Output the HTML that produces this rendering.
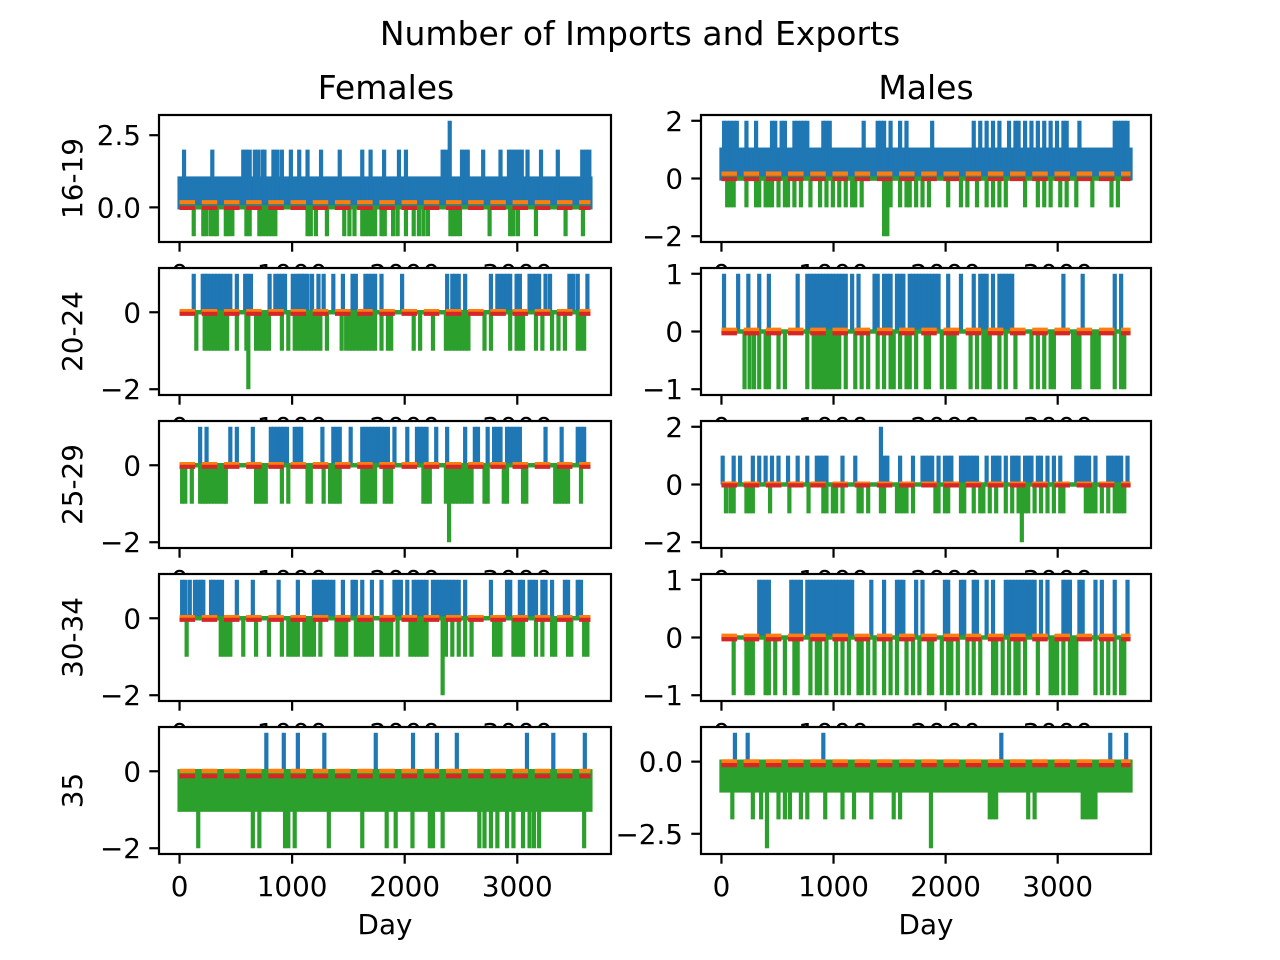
<!DOCTYPE html>
<html><head><meta charset="utf-8"><style>
html,body{margin:0;padding:0;background:#fff;}
svg{display:block;font-family:"DejaVu Sans","Liberation Sans",sans-serif;}
</style></head><body>
<svg id="fig" width="1280" height="960" viewBox="0 0 1280 960" xmlns="http://www.w3.org/2000/svg">
<rect width="1280" height="960" fill="#fff"/>
<text x="640" y="45" font-size="33" text-anchor="middle">Number of Imports and Exports</text>
<text x="386" y="99" font-size="33" text-anchor="middle">Females</text>
<text x="926" y="99" font-size="33" text-anchor="middle">Males</text>
<g id="plots"></g>
</svg>
<script>
// ---- data (days of spikes, values) ----
const rowLabels = ["16-19","20-24","25-29","30-34","35"];
const xTicks = [0,1000,2000,3000];
const xMax = 3650;
// Females
const fBlueBand = [1,0,0,0,0];
const fGreenBand = [0,0,0,0,-1];
const fBlue2_16 = [40,291,566,594,623,669,697,737,754,834,869,909,989,1063,1137,1257,1423,1623,1697,1817,1949,2011,2337,2366,2509,2537,2560,2697,2851,2926,2954,2983,3011,3040,3091,3211,3360,3577,3611,3640];
const fBlue3_16 = [2400];
const fGreen1_16 = [126,211,240,280,309,331,411,434,469,594,623,709,737,766,794,823,851,1137,1166,1211,1309,1463,1509,1554,1623,1651,1680,1709,1737,1794,1823,1897,1937,2011,2080,2126,2166,2206,2406,2434,2463,2491,2754,2937,2966,3006,3166,3429,3583];
const fBlue1_20 = [126,206,229,251,280,309,337,366,394,423,451,509,583,606,634,800,851,880,909,937,1006,1040,1063,1086,1109,1137,1177,1234,1280,1366,1451,1537,1566,1651,1680,1709,1737,1794,1977,2377,2423,2451,2480,2537,2766,2823,2851,2880,2909,2937,2994,3023,3109,3137,3166,3194,3251,3291,3463,3497,3537,3623];
const fGreen1_20 = [149,223,251,280,309,337,366,394,423,509,594,680,709,737,766,794,909,966,1023,1051,1080,1109,1137,1166,1194,1223,1251,1309,1440,1480,1509,1537,1566,1594,1623,1651,1680,1709,1737,1794,1851,1880,2080,2137,2251,2366,2394,2423,2451,2480,2509,2537,2566,2709,2766,2937,2994,3023,3051,3166,3223,3309,3366,3423,3537,3566,3594];
const fGreen2_20 = [611];
const fBlue1_25 = [183,240,451,509,651,811,840,869,897,926,954,1023,1051,1080,1269,1366,1394,1423,1520,1623,1651,1680,1709,1737,1766,1794,1823,1851,1909,2023,2109,2137,2166,2194,2280,2377,2537,2623,2651,2737,2794,2823,2851,2909,2937,2966,2994,3023,3251,3394,3537,3566,3594];
const fGreen1_25 = [23,51,109,183,206,229,251,280,309,337,366,394,411,680,709,737,766,909,966,1137,1166,1280,1337,1366,1394,1423,1623,1651,1680,1709,1737,1823,1851,1880,2166,2194,2223,2366,2423,2451,2480,2509,2537,2566,2594,2709,2737,2880,2909,3051,3080,3337,3366,3394,3423,3451,3566];
const fGreen2_25 = [2394];
const fBlue1_30 = [23,51,91,137,166,194,211,280,297,326,354,377,509,651,880,1051,1194,1223,1251,1280,1309,1337,1366,1451,1537,1566,1623,1709,1794,1909,1937,1966,2023,2080,2109,2137,2166,2194,2251,2280,2309,2337,2366,2394,2423,2451,2480,2537,2766,2909,2937,3023,3051,3109,3137,3166,3223,3251,3309,3423,3451,3537,3566];
const fGreen1_30 = [63,366,394,423,451,566,680,794,909,966,994,1023,1051,1109,1137,1166,1194,1251,1394,1423,1451,1480,1566,1594,1623,1651,1680,1709,1794,1823,1851,1880,1937,2051,2080,2109,2137,2166,2194,2366,2423,2480,2537,2594,2794,2823,2851,2966,2994,3023,3051,3166,3223,3309,3337,3451,3480,3594,3623];
const fGreen2_30 = [2337];
const fBlue1_35 = [771,926,1051,1286,1743,2074,2286,2463,3086,3320,3600];
const fGreen2_35 = [166,651,709,937,966,1023,1326,1623,1840,1920,2069,2223,2251,2337,2663,2709,2766,2823,2909,2966,3051,3109,3149,3194,3594];
// Males
const mBlueBand = [1,0,0,0,0];
const mGreenBand = [0,0,0,0,-1];
const mBlue2_16 = [23,51,80,109,137,223,309,451,480,537,566,651,680,709,737,766,909,937,966,1269,1394,1423,1451,1509,1594,1651,1880,2251,2309,2366,2423,2480,2566,2623,2651,2709,2766,2823,2880,2937,2994,3051,3080,3194,3509,3537,3566,3594,3623];
const mGreen1_16 = [51,80,109,223,309,337,394,423,451,509,566,594,651,709,794,880,937,994,1051,1109,1166,1194,1251,1509,1594,1651,1680,1737,1794,1851,2023,2137,2194,2280,2366,2423,2480,2537,2709,2823,2880,2937,3023,3080,3166,3309,3480,3537];
const mGreen2_16 = [1451,1480];
const mBlue1_20 = [23,149,240,337,423,680,766,794,823,851,880,909,937,966,994,1023,1051,1080,1109,1166,1223,1366,1394,1451,1480,1509,1566,1594,1623,1680,1709,1737,1766,1794,1823,1851,1880,1909,1937,2023,2137,2251,2309,2337,2366,2423,2480,2509,2537,2566,2594,3051,3223,3509,3566];
const mGreen1_20 = [206,251,291,337,394,423,509,566,766,823,851,880,909,937,966,994,1023,1051,1109,1194,1251,1309,1394,1451,1509,1537,1594,1651,1680,1737,1823,1851,1966,2023,2051,2080,2223,2280,2337,2366,2394,2480,2537,2623,2766,2823,2880,2937,2966,3137,3166,3194,3309,3337,3366,3509,3566,3594];
const mBlue1_25 = [11,109,166,280,337,394,451,509,594,680,766,851,880,909,937,1080,1194,1451,1480,1594,1709,1794,1823,1851,1880,1937,1994,2023,2051,2137,2166,2194,2223,2251,2280,2366,2423,2451,2480,2537,2594,2623,2651,2709,2737,2766,2823,2851,2909,2966,3023,3166,3194,3223,3251,3280,3337,3451,3480,3509,3537,3566,3623];
const mBlue2_25 = [1423];
const mGreen1_25 = [40,80,109,223,251,280,434,606,777,909,937,994,1023,1080,1223,1251,1309,1423,1451,1566,1594,1623,1651,1709,1909,1937,1994,2023,2137,2166,2251,2309,2337,2394,2451,2537,2594,2651,2709,2737,2794,2851,2909,2966,3023,3051,3251,3280,3309,3337,3394,3451,3509,3537,3566,3594];
const mGreen2_25 = [2680];
const mBlue1_30 = [337,366,394,423,623,651,680,709,766,794,823,851,880,909,937,966,994,1023,1051,1080,1109,1137,1166,1337,1451,1566,1594,1623,1737,1794,1994,2023,2137,2166,2251,2280,2366,2423,2537,2566,2594,2623,2651,2680,2709,2737,2766,2794,2851,2909,3051,3080,3109,3194,3223,3337,3394,3509,3623];
const mGreen1_30 = [109,223,251,280,394,423,480,566,651,680,794,851,880,937,1023,1080,1137,1223,1251,1309,1366,1451,1509,1566,1651,1709,1766,1851,1880,1966,2023,2051,2109,2194,2251,2309,2423,2451,2509,2566,2623,2651,2709,2823,2937,2966,2994,3051,3109,3137,3166,3337,3394,3451,3509,3566,3594];
const mBlue1_35 = [120,234,909,2497,3469,3611];
const mGreen2_35 = [97,280,354,509,566,611,709,766,926,1080,1183,1337,1537,1594,2394,2423,2451,2737,2794,3223,3251,3280,3309,3337];
const mGreen3_35 = [406,1869];
// means (orange = imports mean, red = exports mean)
const fOrangeMean = [0.18,0.03,0.03,0.03,0.01];
const fRedMean = [-0.02,-0.04,-0.04,-0.04,-0.13];
const mOrangeMean = [0.17,0.03,0.03,0.03,0.01];
const mRedMean = [-0.02,-0.03,-0.03,-0.03,-0.12];
// y axis
const fYLim = [[-1.2,3.2],[-2.15,1.15],[-2.15,1.15],[-2.15,1.15],[-2.15,1.15]];
const mYLim = [[-2.2,2.2],[-1.1,1.1],[-2.2,2.2],[-1.1,1.1],[-3.2,1.2]];
const fYTicks = [[0,2.5],[-2,0],[-2,0],[-2,0],[-2,0]];
const mYTicks = [[-2,0,2],[-1,0,1],[-2,0,2],[-1,0,1],[-2.5,0]];
const fYTickLabels = [["0.0","2.5"],["−2","0"],["−2","0"],["−2","0"],["−2","0"]];
const mYTickLabels = [["−2","0","2"],["−1","0","1"],["−2","0","2"],["−1","0","1"],["−2.5","0.0"]];

const fSpikes = [
  [[fBlue2_16,2,"#1f77b4"],[fBlue3_16,3,"#1f77b4"],[fGreen1_16,-1,"#2ca02c"]],
  [[fBlue1_20,1,"#1f77b4"],[fGreen1_20,-1,"#2ca02c"],[fGreen2_20,-2,"#2ca02c"]],
  [[fBlue1_25,1,"#1f77b4"],[fGreen1_25,-1,"#2ca02c"],[fGreen2_25,-2,"#2ca02c"]],
  [[fBlue1_30,1,"#1f77b4"],[fGreen1_30,-1,"#2ca02c"],[fGreen2_30,-2,"#2ca02c"]],
  [[fBlue1_35,1,"#1f77b4"],[fGreen2_35,-2,"#2ca02c"]]
];
const mSpikes = [
  [[mBlue2_16,2,"#1f77b4"],[mGreen1_16,-1,"#2ca02c"],[mGreen2_16,-2,"#2ca02c"]],
  [[mBlue1_20,1,"#1f77b4"],[mGreen1_20,-1,"#2ca02c"]],
  [[mBlue1_25,1,"#1f77b4"],[mBlue2_25,2,"#1f77b4"],[mGreen1_25,-1,"#2ca02c"],[mGreen2_25,-2,"#2ca02c"]],
  [[mBlue1_30,1,"#1f77b4"],[mGreen1_30,-1,"#2ca02c"]],
  [[mBlue1_35,1,"#1f77b4"],[mGreen2_35,-2,"#2ca02c"],[mGreen3_35,-3,"#2ca02c"]]
];

const NS = "http://www.w3.org/2000/svg";
const root = document.getElementById("plots");
const rowTops = [115,268,421,574,727];
const axH = 127;
const cols = [{x0:159,x1:611},{x0:701,x1:1151}];
const xLo = -182.5, xHi = 3832.5;
const LW = 4.2;

function mk(tag, attrs, parent){
  const e = document.createElementNS(NS, tag);
  for (const k in attrs) e.setAttribute(k, attrs[k]);
  parent.appendChild(e);
  return e;
}

for (let r=0;r<5;r++){
  for (let c=0;c<2;c++){
    const isF = c===0;
    const col = cols[c];
    const top = rowTops[r], bot = top+axH;
    const ylim = isF?fYLim[r]:mYLim[r];
    const sx = d => col.x0 + (d - xLo)/(xHi - xLo)*(col.x1-col.x0);
    const sy = v => bot - (v - ylim[0])/(ylim[1]-ylim[0])*axH;
    const prefix = (isF?"females-":"males-")+rowLabels[r];
    const g = mk("g",{},root);
    
    
    const bg = mk("rect",{x:col.x0,y:top,width:col.x1-col.x0,height:axH,fill:"#fff"},g);
    
    
    const clipId = "clip"+r+"_"+c;
    const cp = mk("clipPath",{id:clipId},g);
    mk("rect",{x:col.x0,y:top,width:col.x1-col.x0,height:axH},cp);
    const marks = mk("g",{"clip-path":"url(#"+clipId+")"},g);
    const bb = isF?fBlueBand[r]:mBlueBand[r];
    const gb = isF?fGreenBand[r]:mGreenBand[r];
    const spikes = isF?fSpikes[r]:mSpikes[r];
    if (bb>0){
      const br = mk("rect",{x:sx(0)-LW/2,y:sy(bb)-LW/2,width:sx(xMax)-sx(0)+LW,height:sy(0)-sy(bb)+LW,fill:"#1f77b4"},marks);
      
      
    }
    const bl = mk("line",{x1:sx(0),x2:sx(xMax),y1:sy(0),y2:sy(0),stroke:"#1f77b4","stroke-width":LW},marks);
    
    
    spikes.filter(s=>s[1]>0).forEach(s=>{
      s[0].forEach(d=>{
        const l = mk("line",{x1:sx(d),x2:sx(d),y1:sy(0),y2:sy(s[1]),stroke:s[2],"stroke-width":LW},marks);
        
        
      });
    });
    if (gb<0){
      const gr = mk("rect",{x:sx(0)-LW/2,y:sy(0)-LW/2,width:sx(xMax)-sx(0)+LW,height:sy(gb)-sy(0)+LW,fill:"#2ca02c"},marks);
      
      
    }
    const gl = mk("line",{x1:sx(0),x2:sx(xMax),y1:sy(0),y2:sy(0),stroke:"#2ca02c","stroke-width":LW},marks);
    
    
    spikes.filter(s=>s[1]<0).forEach(s=>{
      s[0].forEach(d=>{
        const l = mk("line",{x1:sx(d),x2:sx(d),y1:sy(0),y2:sy(s[1]),stroke:s[2],"stroke-width":LW},marks);
        
        
      });
    });
    const om = isF?fOrangeMean[r]:mOrangeMean[r];
    const rm = isF?fRedMean[r]:mRedMean[r];
    const ol = mk("line",{x1:sx(0),x2:sx(xMax),y1:sy(om),y2:sy(om),stroke:"#ff7f0e","stroke-width":LW,"stroke-dasharray":"15.5 6.7"},marks);
    
    
    const rl = mk("line",{x1:sx(0),x2:sx(xMax),y1:sy(rm),y2:sy(rm),stroke:"#d62728","stroke-width":LW,"stroke-dasharray":"15.5 6.7"},marks);
    
    
    const fr = mk("rect",{x:col.x0,y:top,width:col.x1-col.x0,height:axH,fill:"none",stroke:"#000","stroke-width":2.2},g);
    
    
    const yt = isF?fYTicks[r]:mYTicks[r];
    const ytl = isF?fYTickLabels[r]:mYTickLabels[r];
    yt.forEach((v,i)=>{
      mk("line",{x1:col.x0-9.7,x2:col.x0,y1:sy(v),y2:sy(v),stroke:"#000","stroke-width":2.2},g);
      const t = mk("text",{x:col.x0-18,y:sy(v)+10,"font-size":27.8,"text-anchor":"end"},g);
      t.textContent = ytl[i];
      
      
    });
    xTicks.forEach(v=>{
      mk("line",{x1:sx(v),x2:sx(v),y1:bot,y2:bot+9.7,stroke:"#000","stroke-width":2.2},g);
      const t = mk("text",{x:sx(v),y:bot+42,"font-size":27.8,"text-anchor":"middle"},g);
      t.textContent = String(v);
      
      
    });
    if (isF){
      const yl = mk("text",{x:82,y:top+axH/2,"font-size":27.8,"text-anchor":"middle",transform:"rotate(-90 82 "+(top+axH/2)+")"},g);
      yl.textContent = rowLabels[r];
      
      
    }
    if (r===4){
      const xl = mk("text",{x:(col.x0+col.x1)/2,y:934,"font-size":27.8,"text-anchor":"middle"},g);
      xl.textContent = "Day";
      
      
    }
  }
}
</script>
</body></html>
